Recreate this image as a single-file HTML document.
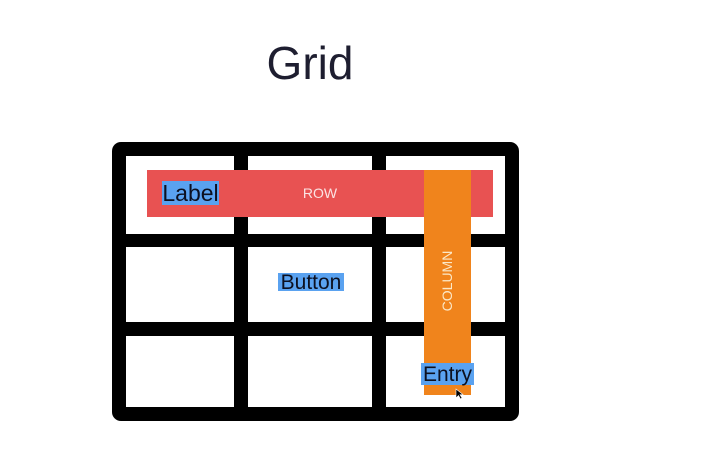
<!DOCTYPE html>
<html><head><meta charset="utf-8"><style>
html,body{margin:0;padding:0;background:#fff;}
body{width:702px;height:449px;position:relative;overflow:hidden;font-family:"Liberation Sans",sans-serif;}
.a{position:absolute;}
.cell{position:absolute;background:#fff;}
.hl{position:absolute;background:#5aa2f0;color:#0c1020;font-size:21px;line-height:1;display:flex;align-items:center;justify-content:center;}
</style></head><body>
<div class="a" style="left:230px;top:36px;width:160px;text-align:center;font-size:46px;color:#1e1e30;">Grid</div>
<div class="a" style="left:112px;top:142px;width:407px;height:279px;background:#000;border-radius:9px;"></div>
<div class="cell" style="left:126px;top:156px;width:108px;height:78px;"></div>
<div class="cell" style="left:248px;top:156px;width:124px;height:78px;"></div>
<div class="cell" style="left:386px;top:156px;width:119px;height:78px;"></div>
<div class="cell" style="left:126px;top:247px;width:108px;height:75px;"></div>
<div class="cell" style="left:248px;top:247px;width:124px;height:75px;"></div>
<div class="cell" style="left:386px;top:247px;width:119px;height:75px;"></div>
<div class="cell" style="left:126px;top:336px;width:108px;height:71px;"></div>
<div class="cell" style="left:248px;top:336px;width:124px;height:71px;"></div>
<div class="cell" style="left:386px;top:336px;width:119px;height:71px;"></div>
<div class="a" style="left:147px;top:170px;width:346px;height:47px;background:#e85252;"></div>
<div class="a" style="left:290px;top:185px;width:60px;text-align:center;color:#fbe3e3;font-size:14px;">ROW</div>
<div class="a" style="left:424px;top:170px;width:47px;height:225px;background:#f0841c;"></div>
<div class="a" style="left:407px;top:273px;width:80px;text-align:center;color:#fbe8c8;font-size:14px;transform:rotate(-90deg);">COLUMN</div>
<div class="hl" style="left:162px;top:181px;width:57px;height:24px;font-size:23px;">Label</div>
<div class="hl" style="left:278px;top:273px;width:66px;height:18px;">Button</div>
<div class="hl" style="left:421px;top:363px;width:53px;height:22px;">Entry</div>
<svg class="a" style="left:455px;top:388px" width="10" height="12"><path d="M1 1 L1 10 L3.5 7.5 L5.5 11 L7 10 L5 6.8 L8 6.5 Z" fill="#000" stroke="#fff" stroke-width="0.6"/></svg>
</body></html>
